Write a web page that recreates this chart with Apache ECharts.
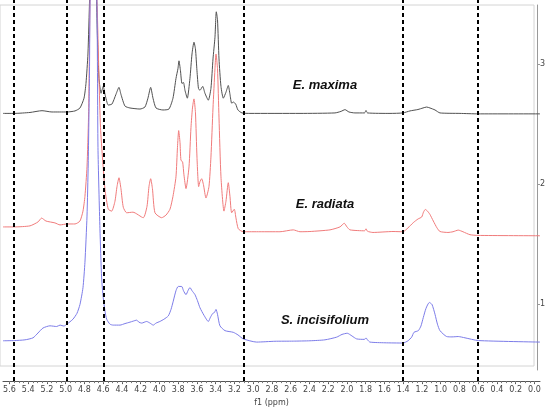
<!DOCTYPE html>
<html>
<head>
<meta charset="utf-8">
<script src="https://cdn.jsdelivr.net/npm/echarts@6/dist/echarts.min.js"></script>
<style>html,body{margin:0;padding:0;background:#fff}#c{width:550px;height:412px}</style>
</head>
<body>
<div id="c"></div>
<script>
// ---- data (ppm vs. intensity on the stacked right axis) ----
var xTickValues = [0,0.2,0.4,0.6,0.8,1.0,1.2,1.4,1.6,1.8,2.0,2.2,2.4,2.6,2.8,3.0,3.2,3.4,3.6,3.8,4.0,4.2,4.4,4.6,4.8,5.0,5.2,5.4,5.6];
var xTickLabels = ['0.0','0.2','0.4','0.6','0.8','1.0','1.2','1.4','1.6','1.8','2.0','2.2','2.4','2.6','2.8','3.0','3.2','3.4','3.6','3.8','4.0','4.2','4.4','4.6','4.8','5.0','5.2','5.4','5.6'];
var yTickValues = [1, 2, 3];
var dashedPpm = [5.55, 4.99, 4.595, 3.1, 1.4, 0.6];
var sampleNames = ['E. maxima', 'E. radiata', 'S. incisifolium'];

var maximaPpm = [5.669,5.545,5.381,5.253,5.147,4.987,4.901,4.848,4.805,4.784,4.763,4.745,4.710,4.672,4.661,4.645,4.623,4.600,4.581,4.546,4.507,4.464,4.432,4.411,4.368,4.315,4.208,4.155,4.123,4.094,4.069,4.037,3.963,3.899,3.856,3.824,3.803,3.792,3.776,3.760,3.744,3.728,3.703,3.675,3.653,3.632,3.616,3.600,3.584,3.568,3.539,3.515,3.479,3.451,3.429,3.408,3.394,3.381,3.365,3.344,3.319,3.291,3.266,3.248,3.230,3.211,3.187,3.163,3.120,3.035,2.501,2.128,2.064,2.021,1.979,1.915,1.813,1.797,1.781,1.541,1.403,1.328,1.243,1.189,1.150,1.115,1.061,1.008,0.795,0.603,-0.059];
var maximaInt = [2.571,2.571,2.579,2.594,2.583,2.583,2.592,2.617,2.700,2.825,3.075,3.550,4.500,3.550,3.200,2.867,2.742,2.800,2.733,2.642,2.650,2.733,2.792,2.733,2.633,2.617,2.608,2.625,2.700,2.792,2.700,2.617,2.600,2.608,2.700,2.867,2.950,3.017,2.933,2.825,2.833,2.767,2.700,2.867,3.075,3.175,3.117,2.933,2.783,2.767,2.800,2.742,2.683,2.783,3.033,3.217,3.433,3.367,3.033,2.800,2.700,2.750,2.808,2.733,2.658,2.667,2.650,2.600,2.575,2.571,2.571,2.575,2.588,2.603,2.583,2.575,2.575,2.596,2.575,2.571,2.575,2.592,2.604,2.617,2.625,2.617,2.600,2.575,2.571,2.567,2.567];

var radiataPpm = [5.669,5.545,5.381,5.296,5.257,5.211,5.115,5.061,4.987,4.901,4.848,4.816,4.795,4.773,4.757,4.747,4.740,4.710,4.667,4.645,4.629,4.606,4.581,4.546,4.510,4.475,4.453,4.432,4.411,4.386,4.350,4.283,4.173,4.133,4.112,4.094,4.075,4.048,3.977,3.931,3.888,3.856,3.824,3.808,3.795,3.781,3.771,3.753,3.739,3.717,3.685,3.664,3.648,3.632,3.616,3.600,3.582,3.568,3.550,3.531,3.504,3.472,3.451,3.429,3.408,3.397,3.381,3.365,3.344,3.312,3.291,3.266,3.248,3.230,3.202,3.184,3.159,3.106,2.928,2.715,2.573,2.501,2.395,2.181,2.075,2.029,2.000,1.968,1.813,1.797,1.781,1.723,1.509,1.403,1.349,1.293,1.243,1.203,1.184,1.165,1.141,1.115,1.079,1.040,1.008,0.923,0.869,0.813,0.763,0.688,0.603,-0.059];
var radiataInt = [1.608,1.608,1.617,1.650,1.683,1.658,1.642,1.625,1.633,1.633,1.658,1.742,1.867,2.117,2.533,3.117,3.550,4.500,3.550,2.867,2.450,2.175,1.925,1.758,1.742,1.825,1.950,2.025,1.933,1.775,1.728,1.733,1.686,1.783,1.950,2.017,1.933,1.728,1.686,1.708,1.758,1.867,2.033,2.283,2.425,2.325,2.175,2.158,2.050,1.933,2.117,2.450,2.617,2.694,2.575,2.200,1.950,1.992,2.017,1.967,1.853,1.950,2.200,2.617,2.950,3.075,2.950,2.533,2.033,1.742,1.825,1.983,1.867,1.728,1.758,1.683,1.592,1.567,1.567,1.567,1.583,1.567,1.569,1.583,1.608,1.639,1.608,1.583,1.575,1.592,1.571,1.561,1.569,1.567,1.600,1.644,1.675,1.692,1.733,1.756,1.742,1.714,1.658,1.600,1.569,1.561,1.567,1.581,1.567,1.542,1.536,1.533];

var incisPpm = [5.669,5.545,5.435,5.349,5.296,5.243,5.168,5.097,5.061,5.019,4.987,4.923,4.880,4.848,4.816,4.795,4.773,4.760,4.747,4.740,4.710,4.668,4.656,4.635,4.617,4.600,4.581,4.563,4.528,4.493,4.421,4.368,4.315,4.283,4.243,4.219,4.190,4.137,4.101,4.066,4.037,3.995,3.952,3.906,3.877,3.853,3.824,3.800,3.763,3.744,3.717,3.696,3.675,3.653,3.621,3.595,3.568,3.525,3.479,3.456,3.433,3.413,3.397,3.381,3.355,3.301,3.213,3.163,3.106,2.963,2.768,2.573,2.395,2.235,2.110,2.053,1.997,1.947,1.897,1.813,1.797,1.781,1.755,1.595,1.403,1.349,1.310,1.285,1.239,1.211,1.186,1.157,1.122,1.093,1.061,1.035,1.008,0.937,0.880,0.813,0.741,0.599,-0.059];
var incisInt = [0.642,0.644,0.650,0.667,0.708,0.750,0.769,0.763,0.775,0.767,0.783,0.825,0.875,0.950,1.092,1.308,1.700,2.142,2.867,3.550,4.500,3.550,2.283,1.592,1.175,1.008,0.894,0.825,0.783,0.775,0.775,0.788,0.800,0.808,0.817,0.800,0.792,0.806,0.792,0.775,0.792,0.806,0.825,0.853,0.908,0.978,1.067,1.103,1.103,1.067,1.033,1.067,1.094,1.067,1.033,0.983,0.922,0.858,0.806,0.842,0.873,0.883,0.908,0.867,0.769,0.728,0.714,0.692,0.658,0.631,0.638,0.639,0.642,0.650,0.673,0.696,0.706,0.683,0.658,0.654,0.667,0.650,0.631,0.625,0.623,0.642,0.673,0.714,0.728,0.767,0.839,0.917,0.967,0.950,0.867,0.783,0.728,0.678,0.675,0.678,0.667,0.644,0.631];

function zip(xs, ys) { return xs.map(function (x, i) { return [x, ys[i]]; }); }

var chart = echarts.init(document.getElementById('c'), null, {renderer: 'canvas'});
var labelMap = {};
xTickValues.forEach(function (v, i) { labelMap[v.toFixed(1)] = xTickLabels[i]; });
var minorTicks = [];
for (var k = 0; k <= 112; k++) { minorTicks.push(Math.round(k * 5) / 100); }

var option = {
  animation: false,
  backgroundColor: '#fff',
  grid: [
    {left: 3, right: 10, top: 0, bottom: 24},
    {left: 0, right: 16, top: 5, bottom: 46, show: true, borderColor: '#d4d4d4', borderWidth: 1, backgroundColor: 'transparent'},
    {left: 0, right: 13, top: 5, bottom: 42}
  ],
  xAxis: [
    {
      type: 'value', gridIndex: 0, inverse: true, min: -0.059, max: 5.669,
      splitLine: {show: false},
      axisLine: {show: true, onZero: false, lineStyle: {color: '#555', width: 1}},
      axisTick: {show: true, length: 3, customValues: xTickValues, lineStyle: {color: '#555'}},
      axisLabel: {customValues: xTickValues, margin: 5, fontSize: 8, color: '#444', fontFamily: 'DejaVu Sans',
        formatter: function (v) { return labelMap[(+v).toFixed(1)] || ''; }},
      name: 'f1 (ppm)', nameLocation: 'middle', nameGap: 13,
      nameTextStyle: {fontSize: 8, color: '#444', fontFamily: 'DejaVu Sans'}
    },
    {
      type: 'value', gridIndex: 0, inverse: true, min: -0.059, max: 5.669, position: 'bottom',
      splitLine: {show: false}, axisLine: {show: false, onZero: false}, axisLabel: {show: false},
      axisTick: {show: true, length: 2, customValues: minorTicks, lineStyle: {color: '#777'}}
    },
    {type: 'value', gridIndex: 1, show: false, min: 0, max: 1},
    {type: 'value', gridIndex: 2, show: false, min: 0, max: 1}
  ],
  yAxis: [
    {type: 'value', gridIndex: 0, show: false, min: 0.3, max: 3.533},
    {type: 'value', gridIndex: 1, show: false, min: 0, max: 1},
    {
      type: 'value', gridIndex: 2, position: 'right', min: 0.45, max: 3.492,
      splitLine: {show: false},
      axisLine: {show: true, onZero: false, lineStyle: {color: '#999', width: 1}},
      axisTick: {show: true, inside: false, length: 3, customValues: yTickValues, lineStyle: {color: '#999'}},
      axisLabel: {customValues: yTickValues, margin: 3, fontSize: 8, color: '#444', fontFamily: 'DejaVu Sans'}
    }
  ],
  graphic: [
    {type: 'text', x: 325, y: 85, style: {text: sampleNames[0], font: 'italic bold 13px "Liberation Sans"', fill: '#111', textAlign: 'center', textVerticalAlign: 'middle'}},
    {type: 'text', x: 325, y: 204, style: {text: sampleNames[1], font: 'italic bold 13px "Liberation Sans"', fill: '#111', textAlign: 'center', textVerticalAlign: 'middle'}},
    {type: 'text', x: 325, y: 320, style: {text: sampleNames[2], font: 'italic bold 13px "Liberation Sans"', fill: '#111', textAlign: 'center', textVerticalAlign: 'middle'}}
  ],
  series: [
    {
      name: sampleNames[0], type: 'line', xAxisIndex: 0, yAxisIndex: 0, showSymbol: false, smooth: 0.2,
      lineStyle: {color: '#505050', width: 1}, data: zip(maximaPpm, maximaInt), z: 3
    },
    {
      name: sampleNames[1], type: 'line', xAxisIndex: 0, yAxisIndex: 0, showSymbol: false, smooth: 0.2,
      lineStyle: {color: '#f07b7b', width: 1}, data: zip(radiataPpm, radiataInt), z: 3
    },
    {
      name: sampleNames[2], type: 'line', xAxisIndex: 0, yAxisIndex: 0, showSymbol: false, smooth: 0.2,
      lineStyle: {color: '#7c7ce8', width: 1}, data: zip(incisPpm, incisInt), z: 3,
      markLine: {
        silent: true, symbol: 'none', label: {show: false}, animation: false,
        lineStyle: {color: '#000', type: [4, 3], width: 2},
        data: dashedPpm.map(function (p) { return {xAxis: p}; })
      }
    }
  ]
};
chart.setOption(option);
</script>
</body>
</html>
